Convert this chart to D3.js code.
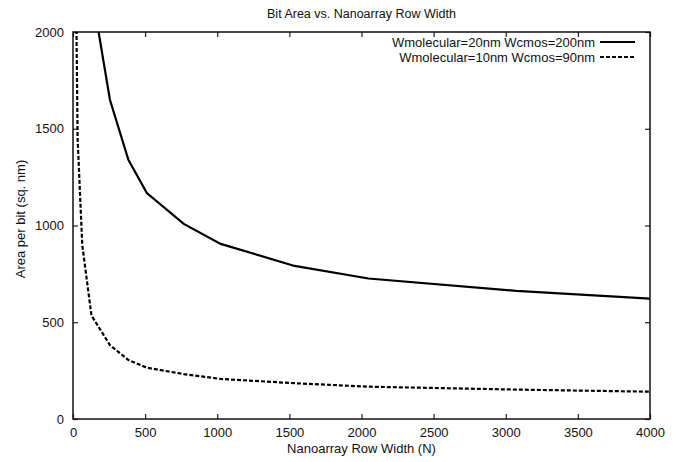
<!DOCTYPE html>
<html>
<head>
<meta charset="utf-8">
<script src="https://cdn.jsdelivr.net/npm/d3@7"></script>
<style>
  body { margin: 0; background: #fff; }
  svg { font-family: "Liberation Sans", Arial, sans-serif; }
</style>
</head>
<body>
<div id="chart"></div>
<script>
// row widths (N) and bit area per series
let rowWidthsA = [128, 256, 384, 512, 768, 1024, 1536, 2048, 3072, 4096];
let areaA = [2220, 1650, 1340, 1168, 1008, 905, 791, 726, 662, 618];

let rowWidthsB = [16, 32, 64, 128, 256, 384, 512, 768, 1024, 1536, 2048, 3072, 4096];
let areaB = [2600, 1450, 900, 535, 382, 305, 265, 232, 207, 185, 167, 152, 140];

let seriesNames = ["Wmolecular=20nm Wcmos=200nm", "Wmolecular=10nm Wcmos=90nm"];
let xTicks = [0, 500, 1000, 1500, 2000, 2500, 3000, 3500, 4000];
let yTicks = [0, 500, 1000, 1500, 2000];

let margin = { top: 32, right: 24, bottom: 43, left: 73 };
let width = 674 - margin.left - margin.right;
let height = 462 - margin.top - margin.bottom;

var x = d3.scaleLinear().domain([0, 4000]).range([0, width]);
var y = d3.scaleLinear().domain([0, 2000]).range([height, 0]);
var fmt = d3.format("d");

var svg = d3.select("#chart").append("svg")
    .attr("width", 674)
    .attr("height", 462);

var g = svg.append("g")
    .attr("transform", "translate(" + margin.left + "," + margin.top + ")");

g.append("clipPath").attr("id", "clip")
  .append("rect").attr("width", width).attr("height", height);

// ticks point inward, mirrored on top / right
g.append("g")
    .attr("transform", "translate(0," + height + ")")
    .call(d3.axisBottom(x).tickValues(xTicks).tickFormat(fmt).tickSizeInner(-5).tickSizeOuter(0).tickPadding(9))
    .call(a => a.select(".domain").remove());
g.append("g")
    .call(d3.axisTop(x).tickValues(xTicks).tickSizeInner(-5).tickSizeOuter(0).tickFormat(""))
    .call(a => a.select(".domain").remove());
g.append("g")
    .call(d3.axisLeft(y).tickValues(yTicks).tickFormat(fmt).tickSizeInner(-5).tickSizeOuter(0).tickPadding(9))
    .call(a => a.select(".domain").remove());
g.append("g")
    .attr("transform", "translate(" + width + ",0)")
    .call(d3.axisRight(y).tickValues(yTicks).tickSizeInner(-5).tickSizeOuter(0).tickFormat(""))
    .call(a => a.select(".domain").remove());

g.selectAll(".tick text").attr("font-size", 13).attr("fill", "#111")
    .attr("font-family", "Liberation Sans, Arial, sans-serif");
g.selectAll(".tick line").attr("stroke", "#222").attr("stroke-width", 1.2);

g.append("rect")
    .attr("width", width).attr("height", height)
    .attr("fill", "none").attr("stroke", "#111").attr("stroke-width", 1.5);

var line = d3.line()
    .x(d => x(d[0]))
    .y(d => y(d[1]));

var plot = g.append("g").attr("clip-path", "url(#clip)");

plot.append("path")
    .datum(d3.zip(rowWidthsA, areaA))
    .attr("fill", "none")
    .attr("stroke", "#000")
    .attr("stroke-width", 2.2)
    .attr("d", line);

plot.append("path")
    .datum(d3.zip(rowWidthsB, areaB))
    .attr("fill", "none")
    .attr("stroke", "#000")
    .attr("stroke-width", 2.2)
    .attr("stroke-dasharray", "4,2")
    .attr("d", line);

// legend
var legend = g.append("g");
seriesNames.forEach(function (name, i) {
  var ly = 10 + i * 15;
  legend.append("text")
      .attr("x", 522).attr("y", ly)
      .attr("dy", "0.35em")
      .attr("text-anchor", "end")
      .attr("font-size", 13)
      .attr("fill", "#111")
      .text(name);
  legend.append("line")
      .attr("x1", 527).attr("x2", 562)
      .attr("y1", ly).attr("y2", ly)
      .attr("stroke", "#000")
      .attr("stroke-width", 2.2)
      .attr("stroke-dasharray", i == 1 ? "4,2" : null);
});

svg.append("text")
    .attr("x", margin.left + width / 2).attr("y", 14)
    .attr("dy", "0.35em")
    .attr("text-anchor", "middle")
    .attr("font-size", 12.5)
    .attr("fill", "#111")
    .text("Bit Area vs. Nanoarray Row Width");

svg.append("text")
    .attr("x", margin.left + width / 2).attr("y", 448)
    .attr("dy", "0.35em")
    .attr("text-anchor", "middle")
    .attr("font-size", 13)
    .attr("fill", "#111")
    .text("Nanoarray Row Width (N)");

svg.append("text")
    .attr("transform", "translate(20,219) rotate(-90)")
    .attr("dy", "0.35em")
    .attr("text-anchor", "middle")
    .attr("font-size", 13)
    .attr("fill", "#111")
    .text("Area per bit (sq. nm)");
</script>
</body>
</html>
